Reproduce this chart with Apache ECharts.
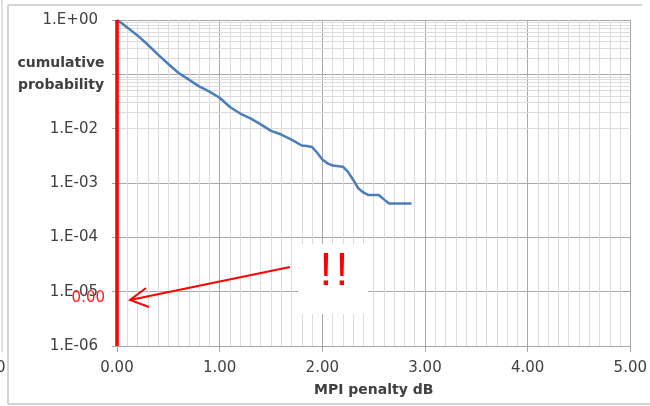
<!DOCTYPE html>
<html>
<head>
<meta charset="utf-8">
<script src="https://cdn.jsdelivr.net/npm/echarts@6/dist/echarts.min.js"></script>
<style>
  html, body { margin: 0; padding: 0; background: #ffffff; }
  #chart { width: 650px; height: 406px; }
</style>
</head>
<body>
<div id="chart"></div>
<script>
// ---- data ----
const mpiPenaltyDb = [0, 0.05, 0.1, 0.2, 0.3, 0.4, 0.5, 0.6, 0.7, 0.8, 0.9, 1.0, 1.1, 1.2, 1.3, 1.4, 1.5, 1.6, 1.7, 1.8, 1.85, 1.9, 1.95, 2.0, 2.05, 2.1, 2.2, 2.25, 2.3, 2.35, 2.4, 2.45, 2.55, 2.6, 2.65, 2.87];
const cumulativeProbability = [1.0, 0.86, 0.73, 0.52, 0.35, 0.23, 0.155, 0.106, 0.080, 0.060, 0.048, 0.037, 0.025, 0.019, 0.0155, 0.012, 0.0091, 0.0078, 0.0063, 0.0049, 0.0048, 0.0046, 0.0036, 0.0027, 0.0023, 0.0021, 0.0020, 0.0016, 0.00115, 0.0008, 0.00067, 0.0006, 0.0006, 0.0005, 0.00042, 0.00042];
const xTickLabels = ['0.00', '1.00', '2.00', '3.00', '4.00', '5.00'];
const xAxisTitle = 'MPI penalty dB';
const yAxisTitle = 'cumulative\nprobability';
const calloutText = '!!';
const calloutValueLabel = '0.00';

// minor horizontal gridlines (2..9 x 10^n) for the log axis
const minorYLines = [];
for (let e = -6; e < 0; e++) {
  for (let k = 2; k <= 9; k++) minorYLines.push({ yAxis: k * Math.pow(10, e) });
}

const seriesData = mpiPenaltyDb.map((x, i) => [x, cumulativeProbability[i]]);

const labelFont = 'DejaVu Sans';
const chart = echarts.init(document.getElementById('chart'), null, { renderer: 'canvas' });

function fmtY(v) {
  const e = Math.round(Math.log10(v));
  if (e === -1) return '';
  const s = e >= 0 ? '+' : '-';
  return '1.E' + s + String(Math.abs(e)).padStart(2, '0');
}

chart.setOption({
  animation: false,
  backgroundColor: '#ffffff',
  grid: { left: 117, right: 19, top: 20, bottom: 60, containLabel: false },
  xAxis: {
    type: 'value', min: 0, max: 5, interval: 1,
    name: xAxisTitle, nameLocation: 'middle', nameGap: 37,
    nameTextStyle: { fontFamily: labelFont, fontSize: 14, fontWeight: 'bold', color: '#404040' },
    axisLine: { show: true, lineStyle: { color: '#a6a6a6', width: 1 } },
    axisTick: { show: true, length: 6, lineStyle: { color: '#a6a6a6' } },
    axisLabel: { margin: 15, fontFamily: labelFont, fontSize: 15, color: '#404040',
      formatter: (v) => xTickLabels[Math.round(v)] },
    splitLine: { show: true, lineStyle: { color: '#a8a8a8', width: 1 } },
    minorTick: { show: false, splitNumber: 10 },
    minorSplitLine: { show: true, lineStyle: { color: '#dcdcdc', width: 1 } }
  },
  yAxis: {
    type: 'log', logBase: 10, min: 1e-6, max: 1, interval: 1,
    axisLine: { show: false },
    axisTick: { show: true, length: 5, lineStyle: { color: '#a6a6a6' } },
    axisLabel: { margin: 19, fontFamily: labelFont, fontSize: 15, color: '#404040', formatter: fmtY,
      hideOverlap: false, showMinLabel: true, showMaxLabel: true },
    splitLine: { show: true, lineStyle: { color: '#a8a8a8', width: 1 } }
  },
  series: [
    {
      type: 'line', data: [], z: 1, silent: true,
      markLine: {
        z: 1, silent: true, symbol: 'none', animation: false,
        label: { show: false },
        lineStyle: { color: '#dcdcdc', width: 1, type: 'solid' },
        data: minorYLines
      }
    },
    {
      type: 'line', data: seriesData, z: 3,
      showSymbol: false, smooth: false,
      lineStyle: { color: '#4a7ebb', width: 2.5 },
      markLine: {
        z: 6, silent: true, symbol: 'none', animation: false,
        label: { show: false },
        lineStyle: { color: '#ff0000', width: 3.5, type: 'solid' },
        data: [{ xAxis: 0 }]
      }
    }
  ],
  graphic: [
    // outer chart frame (screenshot border)
    { type: 'line', shape: { x1: 8, y1: 5, x2: 642, y2: 5 }, style: { stroke: '#d4d4d4', lineWidth: 2 } },
    { type: 'line', shape: { x1: 8, y1: 5, x2: 8, y2: 404 }, style: { stroke: '#d4d4d4', lineWidth: 2 } },
    { type: 'line', shape: { x1: 8, y1: 404, x2: 650, y2: 404 }, style: { stroke: '#d4d4d4', lineWidth: 2 } },
    { type: 'line', shape: { x1: 2, y1: 0, x2: 2, y2: 352 }, style: { stroke: '#d4d4d4', lineWidth: 1.5 } },
    { type: 'text', left: -4, top: 361, style: { text: '0', font: '15px "DejaVu Sans"', fill: '#404040' } },
    // y axis title
    { type: 'text', x: 61, y: 52, z: 10,
      style: { text: yAxisTitle, font: 'bold 14px "DejaVu Sans"', fill: '#404040', align: 'center', verticalAlign: 'top', lineHeight: 22 } },
    // red value label
    { type: 'text', x: 105, y: 298, z: 10,
      style: { text: calloutValueLabel, font: '15px "DejaVu Sans"', fill: '#ff2020', align: 'right', verticalAlign: 'middle' } },
    // arrow
    { type: 'line', z: 20, shape: { x1: 290, y1: 267, x2: 130, y2: 300 }, style: { stroke: '#ff0000', lineWidth: 2 } },
    { type: 'polyline', z: 20, shape: { points: [[146, 288], [130, 300], [149, 307]] }, style: { stroke: '#ff0000', lineWidth: 2, fill: null } },
    // callout box
    { type: 'rect', z: 20, shape: { x: 298, y: 244, width: 70, height: 70 }, style: { fill: '#ffffff' } },
    { type: 'text', x: 326, y: 272, z: 21,
      style: { text: calloutText.charAt(0), font: '46px "Liberation Sans"', fill: '#ff0000', align: 'center', verticalAlign: 'middle' } },
    { type: 'text', x: 342, y: 272, z: 21,
      style: { text: calloutText.charAt(1), font: '46px "Liberation Sans"', fill: '#ff0000', align: 'center', verticalAlign: 'middle' } }
  ]
});
</script>
</body>
</html>
